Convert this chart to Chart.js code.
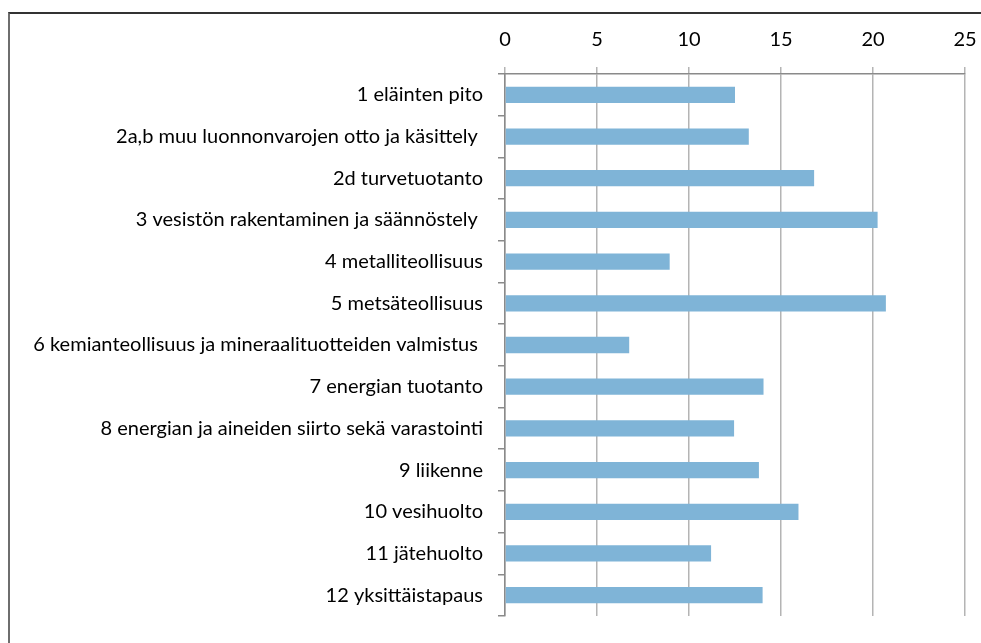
<!DOCTYPE html>
<html>
<head>
<meta charset="utf-8">
<script src="https://cdn.jsdelivr.net/npm/chart.js@4"></script>
<style>
  html, body { margin: 0; padding: 0; background: #fff; overflow: hidden; }
  #frame {
    position: absolute; left: 8px; top: 12px; width: 1000px; height: 700px;
    border-left: 2px solid #6e6e6e; border-top: 2px solid #333;
  }
  #wrap { position: absolute; left: 0; top: 0; width: 981px; height: 643px; }
</style>
</head>
<body>
<div id="frame"></div>
<div id="wrap"><canvas id="chart"></canvas></div>
<script>
let categories = [
    "1 eläinten pito",
    "2a,b muu luonnonvarojen otto ja käsittely ",
    "2d turvetuotanto",
    "3 vesistön rakentaminen ja säännöstely ",
    "4 metalliteollisuus",
    "5 metsäteollisuus",
    "6 kemianteollisuus ja mineraalituotteiden valmistus ",
    "7 energian tuotanto",
    "8 energian ja aineiden siirto sekä varastointi",
    "9 liikenne",
    "10 vesihuolto",
    "11 jätehuolto",
    "12 yksittäistapaus"
];
let values = [12.5, 13.25, 16.8, 20.25, 8.95, 20.7, 6.75, 14.05, 12.45, 13.8, 15.95, 11.2, 14.0];
let xTicks = [0, 5, 10, 15, 20, 25];

let labelFont = { family: "Lato, 'Open Sans', sans-serif", size: 20 };

let ctx = document.getElementById("chart");

let chart = new Chart(ctx, {
    type: "bar",
    data: {
        labels: categories,
        datasets: [{
            data: values,
            backgroundColor: "#7fb4d7",
            borderWidth: 0,
            barPercentage: 0.39,
            categoryPercentage: 1
        }]
    },
    options: {
        indexAxis: "y",
        responsive: true,
        maintainAspectRatio: false,
        animation: false,
        layout: {
            padding: { left: 8, right: 16, top: 0, bottom: 22 }
        },
        plugins: {
            legend: { display: false },
            tooltip: { enabled: false }
        },
        scales: {
            x: {
                position: "top",
                min: 0,
                max: 25,
                afterBuildTicks: (scale) => {
                    scale.ticks = xTicks.map(v => ({ value: v }));
                },
                afterFit: (scale) => {
                    scale.height = 74;
                    scale.paddingLeft = 0;
                    scale.paddingRight = 0;
                },
                ticks: {
                    color: "#000",
                    font: labelFont,
                    padding: 15,
                    maxRotation: 0
                },
                grid: {
                    color: "#b4b4b4",
                    lineWidth: 1.5,
                    tickLength: 7
                },
                border: { color: "#8a8a8a", width: 1.5 }
            },
            y: {
                afterFit: (scale) => { scale.width = 497; },
                ticks: {
                    color: "#000",
                    font: labelFont,
                    padding: 15,
                    autoSkip: false
                },
                grid: {
                    drawOnChartArea: false,
                    drawTicks: true,
                    tickLength: 7,
                    color: "#8a8a8a",
                    lineWidth: 1.5,
                    offset: true
                },
                border: { color: "#8a8a8a", width: 1.5 }
            }
        }
    }
});
</script>
</body>
</html>
